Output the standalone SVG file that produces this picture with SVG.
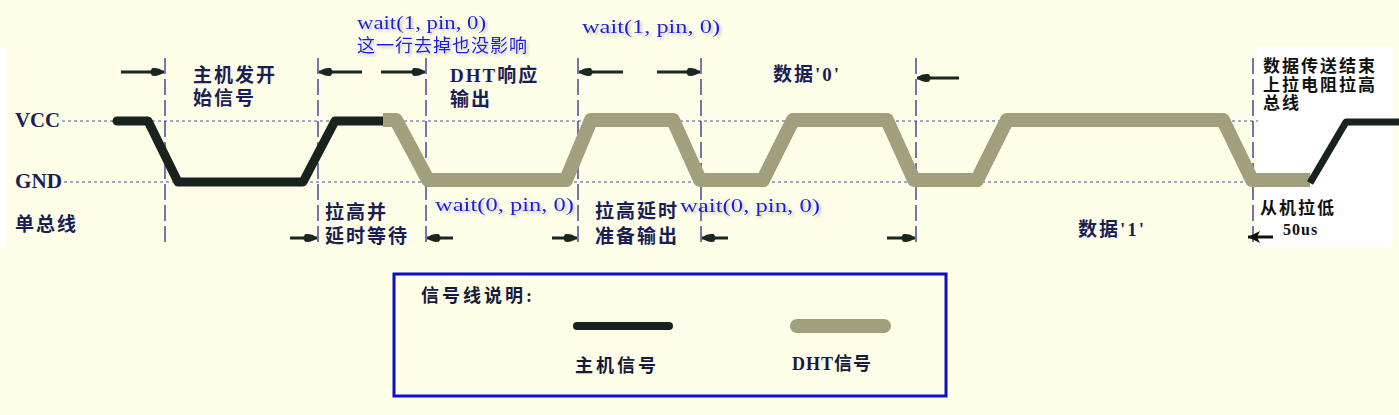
<svg xmlns="http://www.w3.org/2000/svg" width="1399" height="415" viewBox="0 0 1399 415">
  <style>
    .lbl { font-family: "Liberation Serif", "Noto Sans CJK SC", serif; font-weight: bold; font-size: 19px; fill: #1b1d55; letter-spacing: 2px; }
    .rlbl { font-family: "Liberation Serif", "Noto Sans CJK SC", serif; font-weight: bold; font-size: 17px; fill: #111111; letter-spacing: 2px; }
    .axis { font-family: "Liberation Serif", serif; font-weight: bold; font-size: 20px; fill: #1b1d55; }
    .code { font-family: "Liberation Serif", "Noto Sans CJK SC", serif; font-size: 18px; fill: #1f1fe0; filter: url(#shadow); }
    .leg { font-family: "Liberation Serif", "Noto Sans CJK SC", serif; font-weight: bold; font-size: 18px; fill: #161a3c; letter-spacing: 3px; }
    .hdash { stroke: #50509a; stroke-width: 1; stroke-dasharray: 3 3; fill: none; }
    .vdash { stroke: #1c1c80; stroke-width: 1.2; stroke-dasharray: 16 5; fill: none; }
    .arr { stroke: #1a2622; stroke-width: 3; fill: none; marker-end: url(#dart); }
    .host { stroke: #18221e; fill: none; stroke-linejoin: round; }
    .dht { stroke: #a2a07c; fill: none; stroke-linejoin: round; }
  </style>
  <defs>
    <filter id="shadow" x="-10%" y="-30%" width="130%" height="170%">
      <feDropShadow dx="2" dy="2" stdDeviation="1.5" flood-color="#808080" flood-opacity="0.45"/>
    </filter>
    <marker id="dart" viewBox="0 0 16 10" markerWidth="16" markerHeight="10" refX="16" refY="5" orient="auto" markerUnits="userSpaceOnUse">
      <path d="M16,5 C12,1.2 8,0.8 4,1.2 L2,5 L4,8.8 C8,9.2 12,8.8 16,5 Z" fill="#1a2622"/>
    </marker>
    <marker id="tri" viewBox="0 0 12 12" markerWidth="12" markerHeight="12" refX="12" refY="6" orient="auto" markerUnits="userSpaceOnUse">
      <path d="M12,6 L0,0 L3,6 L0,12 Z" fill="#111111"/>
    </marker>
  </defs>

  <rect x="0" y="0" width="1399" height="415" fill="#fdfde8"/>
  <rect x="0" y="48" width="5" height="200" fill="#ffffff"/>
  <rect x="1256" y="47" width="137" height="200" fill="#ffffff"/>

  <g id="guides">
    <line class="hdash" x1="62" y1="121" x2="1258" y2="121"/>
    <line class="hdash" x1="64" y1="182" x2="1285" y2="182"/>
    <line class="vdash" x1="165" y1="58" x2="165" y2="246"/>
    <line class="vdash" x1="318" y1="58" x2="318" y2="246"/>
    <line class="vdash" x1="426" y1="58" x2="426" y2="246"/>
    <line class="vdash" x1="578" y1="58" x2="578" y2="246"/>
    <line class="vdash" x1="701" y1="58" x2="701" y2="246"/>
    <line class="vdash" x1="916" y1="58" x2="916" y2="246"/>
    <line class="vdash" x1="1253" y1="58" x2="1253" y2="246"/>
  </g>

  <g id="axis-labels">
    <text class="axis" x="15" y="127" textLength="45" lengthAdjust="spacingAndGlyphs">VCC</text>
    <text class="axis" x="15" y="188" textLength="47" lengthAdjust="spacingAndGlyphs">GND</text>
    <text class="lbl" x="15" y="231">单总线</text>
  </g>

  <g id="signals">
    <path id="host-signal" class="host" stroke-width="9" stroke-linecap="round" d="M117,121 L148,121 L178,182 L303,182 L335,121 L383,121"/>
    <path id="dht-signal" class="dht" stroke-width="14" d="M383,120 L396,120 L428,180 L566,180 L591,120 L673,120 L700,180 L763,180 L793,120 L887,120 L914,180 L977,180 L1007,120 L1223,120 L1252,180 L1310,180"/>
    <path id="host-release" class="host" stroke="#0a0a0a" stroke-width="7" d="M1310,183 L1346,122 L1399,122"/>
  </g>

  <g id="connectors">
    <line class="arr" x1="121" y1="72" x2="164" y2="72"/>
    <line class="arr" x1="362" y1="72" x2="319" y2="72"/>
    <line class="arr" x1="381" y1="72" x2="425" y2="72"/>
    <line class="arr" x1="623" y1="72" x2="579" y2="72"/>
    <line class="arr" x1="657" y1="72" x2="700" y2="72"/>
    <line class="arr" x1="959" y1="78" x2="917" y2="78"/>
    <line class="arr" x1="290" y1="238" x2="317" y2="238"/>
    <line class="arr" x1="453" y1="238" x2="427" y2="238"/>
    <line class="arr" x1="552" y1="238" x2="577" y2="238"/>
    <line class="arr" x1="728" y1="238" x2="702" y2="238"/>
    <line class="arr" x1="887" y1="238" x2="915" y2="238"/>
    <line x1="1273" y1="237" x2="1248" y2="237" stroke="#111111" stroke-width="3" marker-end="url(#tri)"/>
  </g>

  <g id="host-start">
    <text class="lbl" x="193" y="82">主机发开</text>
    <text class="lbl" x="193" y="105">始信号</text>
  </g>
  <g id="pull-up-wait">
    <text class="lbl" x="325" y="219">拉高并</text>
    <text class="lbl" x="325" y="243">延时等待</text>
  </g>
  <g id="wait-note-1">
    <text class="code" x="357" y="29" textLength="129" lengthAdjust="spacingAndGlyphs">wait(1, pin, 0)</text>
    <text class="code" x="357" y="52" style="letter-spacing:1px">这一行去掉也没影响</text>
  </g>
  <g id="dht-response">
    <text class="lbl" x="450" y="82">DHT响应</text>
    <text class="lbl" x="450" y="106">输出</text>
  </g>
  <g id="wait-low-1">
    <text class="code" x="435" y="211" textLength="139" lengthAdjust="spacingAndGlyphs">wait(0, pin, 0)</text>
  </g>
  <g id="wait-note-2">
    <text class="code" x="582" y="33" textLength="138" lengthAdjust="spacingAndGlyphs">wait(1, pin, 0)</text>
  </g>
  <g id="prep-output">
    <text class="lbl" x="595" y="218">拉高延时</text>
    <text class="lbl" x="595" y="243">准备输出</text>
  </g>
  <g id="wait-low-2">
    <text class="code" x="680" y="212" textLength="140" lengthAdjust="spacingAndGlyphs">wait(0, pin, 0)</text>
  </g>
  <g id="data-0">
    <text class="lbl" x="773" y="81">数据'0'</text>
  </g>
  <g id="data-1">
    <text class="lbl" x="1078" y="236">数据'1'</text>
  </g>
  <g id="end-note">
    <text class="rlbl" x="1263" y="72">数据传送结束</text>
    <text class="rlbl" x="1263" y="91">上拉电阻拉高</text>
    <text class="rlbl" x="1263" y="109">总线</text>
  </g>
  <g id="slave-low">
    <text class="rlbl" x="1260" y="214">从机拉低</text>
    <text class="rlbl" x="1283" y="235" style="letter-spacing:1px;font-size:16px">50us</text>
  </g>

  <g id="legend">
    <rect x="394" y="274" width="552" height="122" fill="none" stroke="#0d0dcc" stroke-width="3"/>
    <text class="leg" x="421" y="302">信号线说明:</text>
    <line x1="577" y1="326" x2="669" y2="326" stroke="#18221e" stroke-width="8" stroke-linecap="round"/>
    <text class="leg" x="575" y="372">主机信号</text>
    <line x1="797" y1="326" x2="884" y2="326" stroke="#a2a07c" stroke-width="14" stroke-linecap="round"/>
    <text class="leg" x="792" y="370" style="letter-spacing:1px">DHT信号</text>
  </g>
</svg>
